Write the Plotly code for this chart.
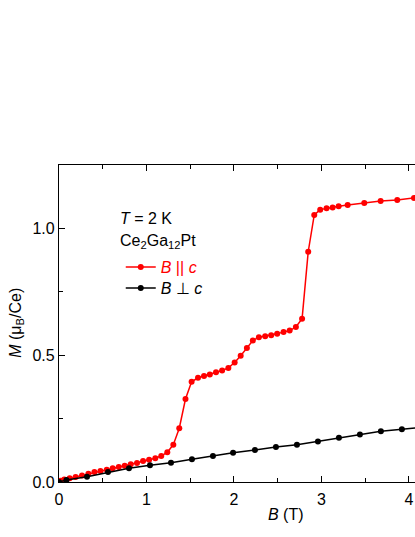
import plotly.graph_objects as go

# B || c  (red)
b_par = [0.02, 0.06, 0.122, 0.190, 0.263, 0.336, 0.405, 0.474, 0.546, 0.614, 0.683, 0.751,
         0.820, 0.892, 0.961, 1.030, 1.101, 1.169, 1.238, 1.307, 1.375, 1.446, 1.516, 1.589,
         1.658, 1.724, 1.795, 1.865, 1.936, 2.008, 2.077, 2.148, 2.216, 2.285, 2.357, 2.426,
         2.494, 2.567, 2.637, 2.708, 2.779, 2.849, 2.918, 2.986, 3.059, 3.128, 3.197, 3.300,
         3.490, 3.677, 3.867, 4.058, 4.15]
m_par = [0.005, 0.010, 0.015, 0.020, 0.026, 0.033, 0.039, 0.043, 0.048, 0.054, 0.059, 0.064,
         0.070, 0.075, 0.083, 0.088, 0.094, 0.103, 0.117, 0.147, 0.212, 0.327, 0.395, 0.411,
         0.418, 0.424, 0.433, 0.440, 0.450, 0.471, 0.498, 0.528, 0.558, 0.571, 0.575, 0.579,
         0.585, 0.591, 0.597, 0.611, 0.644, 0.908, 1.053, 1.074, 1.079, 1.082, 1.087, 1.092,
         1.100, 1.108, 1.112, 1.120, 1.124]

# B perpendicular c (black)
b_perp = [0.0, 0.085, 0.32, 0.56, 0.80, 1.04, 1.28, 1.52, 1.76, 1.99, 2.24, 2.48, 2.72, 2.96,
          3.20, 3.44, 3.68, 3.92, 4.16]
m_perp = [0.0, 0.008, 0.021, 0.039, 0.054, 0.066, 0.076, 0.090, 0.103, 0.115, 0.126, 0.138,
          0.147, 0.160, 0.174, 0.187, 0.200, 0.208, 0.216]

x_ticks = [0, 1, 2, 3, 4]
y_ticks = [0.0, 0.5, 1.0]
y_tick_text = ["0.0", "0.5", "1.0"]

FONT = "Liberation Sans, Arial, sans-serif"

# page body margin is removed below, so the figure sits at the window's top-left corner
PL, PT, PH = 59.3, 164.7, 317.3
W, H = 415, 537
PW = W - PL


def px(sx):
    return (sx - PL) / PW


def py(sy):
    return (PT + PH - sy) / PH


fig = go.Figure()
fig.add_trace(go.Scatter(
    x=b_par, y=m_par, mode="lines+markers",
    line=dict(color="#ff0000", width=1.5),
    marker=dict(color="#ff0000", size=6),
    name='<span style="color:#ff0000"><i>B</i> || <i>c</i></span>',
    legend="legend"))
fig.add_trace(go.Scatter(
    x=b_perp, y=m_perp, mode="lines+markers",
    line=dict(color="#000000", width=1.5),
    marker=dict(color="#000000", size=6),
    name="<i>B</i> \u22a5 <i>c</i>",
    legend="legend2"))

axis_common = dict(showline=True, linecolor="black", linewidth=1.3, ticks="inside",
                   ticklen=6, tickwidth=1, tickcolor="black", showgrid=False, zeroline=False,
                   tickfont=dict(family=FONT, size=16, color="black"))

fig.update_xaxes(range=[0, PW / 87.4], tickvals=x_ticks, mirror="ticks", ticklabelstandoff=3,
                 minor=dict(ticks="inside", dtick=0.5, ticklen=4, tickcolor="black", showgrid=False),
                 **axis_common)
fig.update_yaxes(range=[0, 1.25], tickvals=y_ticks, ticktext=y_tick_text, mirror=False,
                 minor=dict(ticks="inside", dtick=0.25, ticklen=4, tickcolor="black", showgrid=False),
                 **axis_common)

leg_common = dict(xanchor="left", yanchor="middle", bgcolor="rgba(0,0,0,0)", borderwidth=0,
                  font=dict(family=FONT, size=16, color="black"))

fig.update_layout(
    width=W, height=H,
    margin=dict(l=PL, r=0, t=PT, b=H - PT - PH),
    plot_bgcolor="white", paper_bgcolor="white",
    font=dict(family=FONT, size=16, color="black"),
    showlegend=True,
    legend=dict(x=px(121), y=py(267), **leg_common),
    legend2=dict(x=px(121), y=py(288), **leg_common),
    annotations=[
        dict(text="<i>T</i> = 2 K", x=px(118), y=py(218), xref="paper", yref="paper",
             xanchor="left", yanchor="middle", showarrow=False, font=dict(family=FONT, size=16)),
        dict(text="Ce<sub>2</sub>Ga<sub>12</sub>Pt", x=px(118), y=py(241),
             xref="paper", yref="paper", xanchor="left", yanchor="middle", showarrow=False,
             font=dict(family=FONT, size=16)),
        dict(text="<i>M</i> (\u03bc<sub>B</sub>/Ce)", x=px(16), y=py(323), xref="paper", yref="paper",
             xanchor="center", yanchor="middle", textangle=-90, showarrow=False,
             font=dict(family=FONT, size=16)),
        dict(text="<i>B</i> (T)", x=px(286), y=py(515), xref="paper", yref="paper",
             xanchor="center", yanchor="middle", showarrow=False, font=dict(family=FONT, size=16)),
    ],
)

fig.write_html(
    "out.html",
    config={"displayModeBar": False},
    post_script=("document.body.style.margin='0';document.body.style.padding='0';"
                 "document.documentElement.style.overflow='hidden';"
                 "document.body.style.overflow='hidden';"),
)
